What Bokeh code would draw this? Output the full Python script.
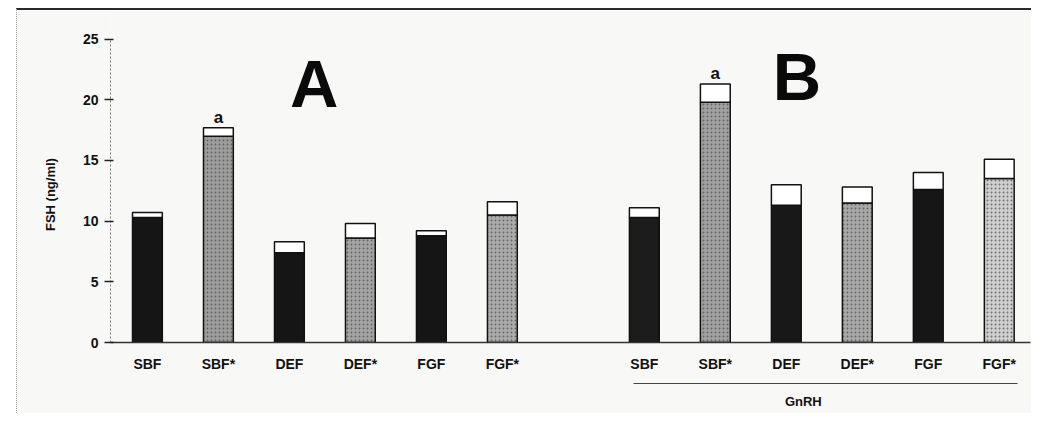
from bokeh.plotting import figure
from bokeh.models import Range1d, FixedTicker, LinearAxis, ColumnDataSource
from bokeh.core.properties import value
from bokeh.embed import file_html
from bokeh.resources import INLINE

# ---- data ----
categories = ["SBF", "SBF*", "DEF", "DEF*", "FGF", "FGF*"]
mean_A = [10.3, 17.0, 7.4, 8.6, 8.8, 10.5]
err_A = [0.4, 0.7, 0.9, 1.2, 0.4, 1.1]
mean_B = [10.3, 19.8, 11.3, 11.5, 12.6, 13.5]
err_B = [0.8, 1.5, 1.7, 1.3, 1.4, 1.6]
group_label = "GnRH"
y_title = "FSH (ng/ml)"
y_ticks = [0, 5, 10, 15, 20, 25]
sig_cat = "SBF*"

# ---- styles ----
fills_A = ["#151515", "#9d9d9d", "#151515", "#a4a4a4", "#151515", "#ababab"]
fills_B = ["#1c1c1c", "#a2a2a2", "#181818", "#a8a8a8", "#161616", "#cfcfcf"]
hatch_A = ["blank", "dot", "blank", "dot", "blank", "dot"]
hatch_B = ["blank", "dot", "blank", "dot", "blank", "dot"]
FONT_NAME = "Liberation Sans"
FONT = value(FONT_NAME)
BG = "#f8f8f7"

pos_A = list(range(len(categories)))
pos_B = [i + len(categories) + 1 for i in range(len(categories))]
xs = pos_A + pos_B
means = mean_A + mean_B
tops = [m + e for m, e in zip(mean_A, err_A)] + [m + e for m, e in zip(mean_B, err_B)]
src = ColumnDataSource(dict(x=xs, mean=means, top=tops,
                            color=fills_A + fills_B, hatch=hatch_A + hatch_B))

p = figure(width=1015, height=405, output_backend="svg", toolbar_location=None,
           x_range=Range1d(-0.52, 12.44), y_range=Range1d(0, 27.35),
           min_border_left=93, min_border_right=2, min_border_top=0, min_border_bottom=73,
           background_fill_color=BG, border_fill_color=BG)
p.styles = {"margin-left": "16px", "margin-top": "8px",
            "border-top": "2px solid #2a2a2a", "border-left": "1px dotted #9a9a9a"}
p.outline_line_color = None
p.grid.visible = False

BW = 0.42
p.vbar(x="x", width=BW, bottom=0, top="mean", source=src, fill_color="color",
       line_color="#111111", line_width=1.5, hatch_pattern="hatch",
       hatch_color="#4a4a4a", hatch_scale=4, hatch_weight=1.2, hatch_alpha=0.7)
p.vbar(x="x", width=BW, bottom="mean", top="top", source=src, fill_color="white",
       line_color="#111111", line_width=1.5)

# significance marks
i = categories.index(sig_cat)
p.text(x=[pos_A[i], pos_B[i]], y=[tops[i], tops[len(categories) + i]], text=["a", "a"],
       text_align="center", text_baseline="bottom", text_font=FONT, text_font_style="bold",
       text_font_size="17px", text_color="#111111", y_offset=-1)

# panel letters
p.text(x=[2.35, 9.15], y=[21.3, 21.9], text=["A", "B"], text_align="center",
       text_baseline="alphabetic", text_font=FONT, text_font_style="bold",
       text_font_size="67px", text_color="#0a0a0a")

# y axis
ya = p.left[0]
ya.ticker = FixedTicker(ticks=y_ticks)
ya.bounds = (0, 25)
ya.axis_line_color = "#777777"
ya.axis_line_dash = "2 2"
ya.major_tick_out = 6
ya.major_tick_in = 3
ya.major_tick_line_color = "#222222"
ya.major_tick_line_width = 1.5
ya.minor_tick_line_color = None
ya.major_label_standoff = 6
ya.major_label_text_font = FONT_NAME
ya.major_label_text_font_style = "bold"
ya.major_label_text_font_size = "14px"
ya.major_label_text_color = "#111111"
# trailing no-break spaces push the visible title a little below the frame centre
ya.axis_label = y_title + "\u00a0" * 10
ya.axis_label_text_font = FONT_NAME
ya.axis_label_text_font_style = "bold"
ya.axis_label_text_font_size = "13px"
ya.axis_label_text_color = "#111111"
ya.axis_label_standoff = 22

# x axis
xa = p.below[0]
xa.ticker = FixedTicker(ticks=xs)
xa.major_label_overrides = {x: c for x, c in zip(xs, categories + categories)}
xa.axis_line_color = "#333333"
xa.axis_line_width = 1.5
xa.major_tick_line_color = None
xa.minor_tick_line_color = None
xa.major_tick_out = 0
xa.major_tick_in = 0
xa.major_label_standoff = 13
xa.major_label_text_font = FONT_NAME
xa.major_label_text_font_style = "bold"
xa.major_label_text_font_size = "14px"
xa.major_label_text_color = "#111111"
xa.axis_label = " "
xa.axis_label_text_font_size = "5px"
xa.axis_label_standoff = 0

# group axis (line under the GnRH bars, label at its own tick)
g_center = 9.24
g = LinearAxis(ticker=FixedTicker(ticks=[g_center]), bounds=(6.85, 12.25))
g.major_label_overrides = {g_center: group_label}
g.axis_line_color = "#444444"
g.axis_line_width = 1.2
g.major_tick_line_color = None
g.minor_tick_line_color = None
g.major_tick_out = 0
g.major_tick_in = 0
g.major_label_standoff = 10
g.major_label_text_font = FONT_NAME
g.major_label_text_font_style = "bold"
g.major_label_text_font_size = "13px"
g.major_label_text_color = "#111111"
p.add_layout(g, "below")

open("out.html", "w").write(file_html(p, INLINE))
